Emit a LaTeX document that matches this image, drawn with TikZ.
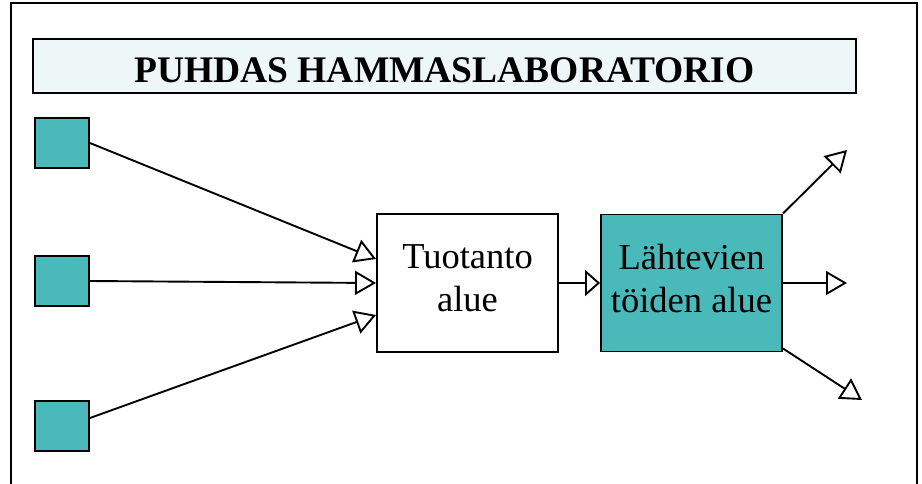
\documentclass[tikz,border=0pt]{standalone}
\usepackage{fontspec}
\setmainfont{Liberation Serif}
\usetikzlibrary{arrows.meta, positioning}
\definecolor{teal1}{rgb}{0.29,0.725,0.725}
\definecolor{pale1}{rgb}{0.93,0.97,0.973}

\begin{document}
\begin{tikzpicture}[x=1pt,y=-1pt]
    \tikzstyle{box} = [draw=black,line width=1.9pt,inner sep=0pt,align=center,font=\fontsize{36.5}{43}\selectfont]
    \tikzstyle{sq} = [box,fill=teal1,minimum width=54pt,minimum height=50pt]
    \tikzstyle{pipe} = [line width=1.9pt,-{Triangle[open,length=21pt,width=24pt]}]
    \useasboundingbox (0,0) rectangle (922,483);
    \draw[line width=1.9pt] (11,490) -- (11,3) -- (917,3) -- (917,490);

    \node[box,fill=pale1,minimum width=823pt,minimum height=54pt,text height=33pt,text depth=0pt,font=\fontsize{37.5}{40}\selectfont\bfseries] (title) at (444.5,66) {PUHDAS HAMMASLABORATORIO};
    \node[sq] (sq1)  at (62,143) {};
    \node[sq] (sq2)  at (62,281) {};
    \node[sq] (sq3)  at (62,426) {};
    \node[box,minimum width=181pt,minimum height=138pt,text depth=10pt] (tuo) at (467.5,283) {Tuotanto\\alue};
    \node[box,fill=teal1,minimum width=181pt,minimum height=137pt,text depth=10pt] (lah) at (691.5,283) {Lähtevien\\töiden alue};
    \coordinate (out1) at (847,150);
    \coordinate (out2) at (847,283);
    \coordinate (out3) at (862,400);

    \draw[pipe] (sq1.east) -- ([yshift=24pt]tuo.west);
    \draw[pipe] (sq2.east) -- (tuo.west);
    \draw[pipe] ([yshift=8pt]sq3.east) -- ([yshift=-32pt]tuo.west);
    \draw[pipe,-{Triangle[open,length=15pt,width=26pt]}] (tuo.east) -- (lah.west);
    \draw[pipe] (lah.north east) -- (out1);
    \draw[pipe] (lah.east) -- (out2);
    \draw[pipe] ([yshift=4pt]lah.south east) -- (out3);
\end{tikzpicture}
\end{document}
